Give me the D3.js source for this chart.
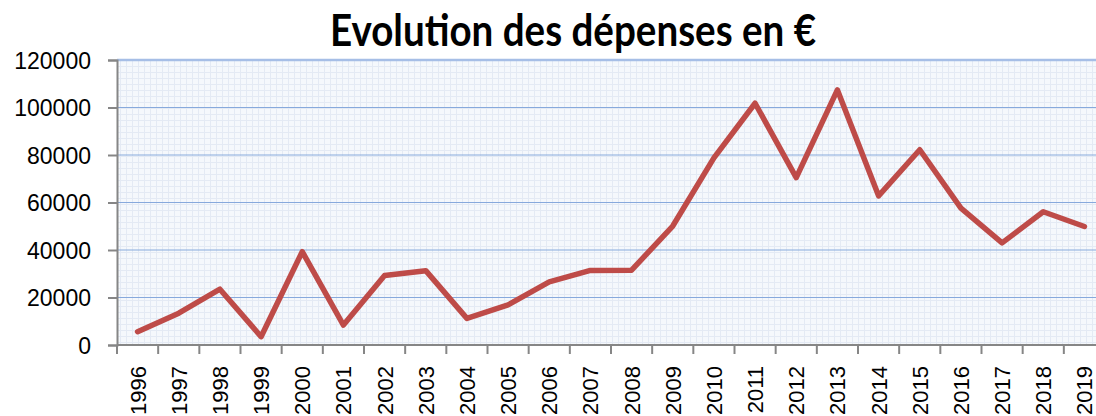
<!DOCTYPE html>
<html>
<head>
<meta charset="utf-8">
<script src="https://cdn.jsdelivr.net/npm/d3@7"></script>
<style>
  body { margin: 0; background: white; }
  svg { display: block; }
</style>
</head>
<body>
<div id="chart"></div>
<script>
const years = ["1996","1997","1998","1999","2000","2001","2002","2003","2004","2005","2006","2007",
  "2008","2009","2010","2011","2012","2013","2014","2015","2016","2017","2018","2019"];
const depenses = [5600, 13400, 23500, 3500, 39300, 8400, 29300, 31300, 11200, 16900, 26600, 31400,
  31500, 50100, 78800, 101800, 70500, 107400, 62800, 82200, 57600, 43000, 56100, 49900];
const yTicks = [0, 20000, 40000, 60000, 80000, 100000, 120000];
const title = "Evolution des dépenses en €";

const width = 1096, height = 416;
const margin = {top: 60, right: -9, bottom: 71, left: 117};

const svg = d3.select("#chart")
  .append("svg")
    .attr("width", width)
    .attr("height", height);

const x = d3.scaleBand()
  .domain(years)
  .range([margin.left, width - margin.right]);

const y = d3.scaleLinear()
  .domain([0, 120000])
  .range([height - margin.bottom, margin.top]);

// plot area background with the small grid texture
const defs = svg.append("defs");
const pat = defs.append("pattern")
  .attr("id", "grid")
  .attr("width", 6).attr("height", 6)
  .attr("patternUnits", "userSpaceOnUse");
pat.append("rect").attr("width", 6).attr("height", 6).attr("fill", "#f5f8fc");
pat.append("rect").attr("x", 0).attr("width", 1).attr("height", 6).attr("fill", "#e4eaf4");
pat.append("rect").attr("y", 0).attr("width", 6).attr("height", 1).attr("fill", "#e4eaf4");

svg.append("rect")
  .attr("x", margin.left)
  .attr("y", margin.top)
  .attr("width", width - margin.right - margin.left)
  .attr("height", y(0) - margin.top)
  .attr("fill", "url(#grid)");

// major gridlines
svg.append("g")
  .selectAll("line")
  .data(yTicks.filter(d => d > 0))
  .join("line")
    .attr("x1", margin.left)
    .attr("x2", width - margin.right)
    .attr("y1", d => y(d))
    .attr("y2", d => y(d))
    .attr("stroke", d => d === 120000 ? "#a6bee6" : "#87a9dc")
    .attr("stroke-width", d => d === 120000 ? 2.5 : 1.2);

// y axis
const yAxis = svg.append("g")
  .attr("transform", `translate(${margin.left},0)`)
  .call(d3.axisLeft(y).tickValues(yTicks).tickSize(9).tickPadding(17).tickFormat(d3.format("d")));
yAxis.select(".domain").attr("stroke", "#868686").attr("stroke-width", 2);
yAxis.selectAll(".tick line").attr("stroke", "#868686").attr("stroke-width", 2);
yAxis.selectAll("text")
  .attr("fill", "#000")
  .style("font-family", "'Liberation Sans', Arial, sans-serif")
  .style("font-size", "23px")
  .attr("dy", "0.36em");

// x axis: ticks at category boundaries
const xAxis = svg.append("g")
  .attr("transform", `translate(0,${y(0)})`);
xAxis.append("line")
  .attr("x1", margin.left).attr("x2", width)
  .attr("stroke", "#868686").attr("stroke-width", 2);
xAxis.selectAll(".bound")
  .data(years)
  .join("line")
    .attr("class", "bound")
    .attr("x1", d => x(d)).attr("x2", d => x(d))
    .attr("y1", 0).attr("y2", 9)
    .attr("stroke", "#868686").attr("stroke-width", 2);
xAxis.selectAll(".lbl")
  .data(years)
  .join("text")
    .attr("class", "lbl")
    .attr("transform", d => `translate(${x(d) + x.bandwidth() / 2 + 8},21) rotate(-90)`)
    .attr("text-anchor", "end")
    .style("font-family", "'Liberation Sans', Arial, sans-serif")
    .style("font-size", "22px")
    .attr("fill", "#000")
    .text(d => d);

// the line
const line = d3.line()
  .x((d, i) => x(years[i]) + x.bandwidth() / 2)
  .y(d => y(d));

svg.append("path")
  .datum(depenses)
  .attr("fill", "none")
  .attr("stroke", "#be4b48")
  .attr("stroke-width", 5.5)
  .attr("stroke-linejoin", "round")
  .attr("stroke-linecap", "round")
  .attr("d", line);

// title
svg.append("text")
  .attr("x", 330)
  .attr("y", 46)
  .attr("textLength", 486)
  .attr("lengthAdjust", "spacingAndGlyphs")
  .style("font-family", "Lato, 'Open Sans', sans-serif")
  .style("font-weight", "bold")
  .style("font-size", "44px")
  .attr("fill", "#000")
  .text(title);
</script>
</body>
</html>
